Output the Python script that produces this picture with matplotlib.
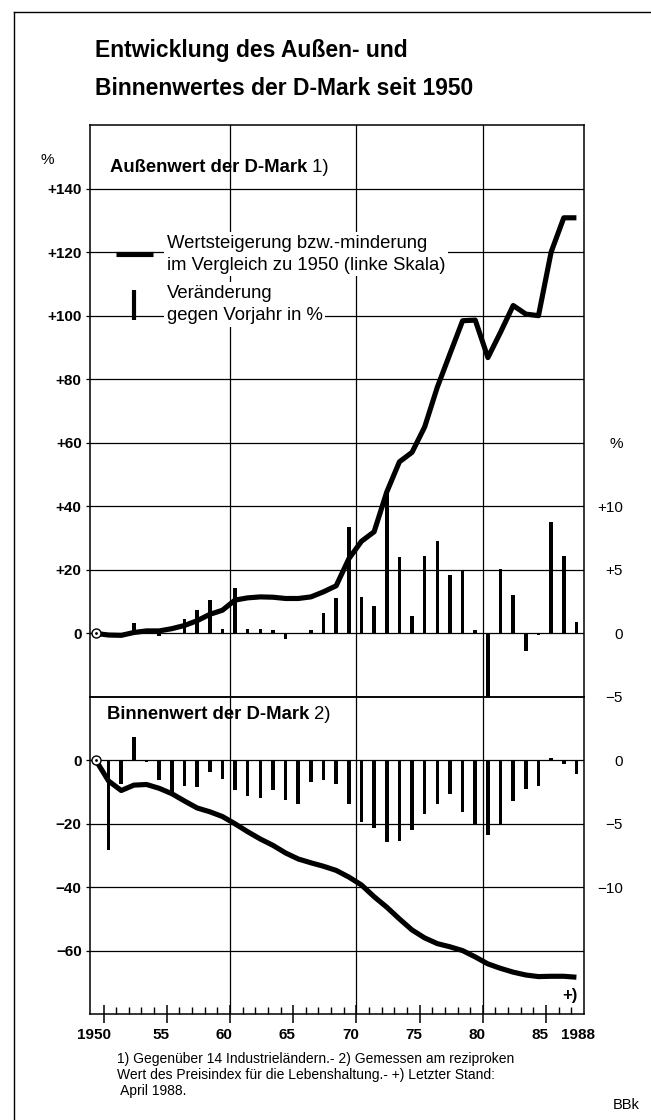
import matplotlib
matplotlib.use('Agg')
import matplotlib.pyplot as plt
from matplotlib.lines import Line2D
from matplotlib.transforms import ScaledTranslation
import numpy as np

plt.rcParams['font.family'] = ['Liberation Sans', 'DejaVu Sans']
plt.rcParams['axes.unicode_minus'] = True

# ---------------- data ----------------
years = list(range(1950, 1989))
change_years = list(range(1951, 1989))

# Außenwert: level vs 1950 in % (left scale)
ext_level = [0, -0.5, -0.6, 0.3, 0.8, 0.8, 1.5, 2.5, 4.0, 6.0,
             7.3, 10.5, 11.2, 11.5, 11.4, 11.0, 11.0, 11.5, 13.1, 15.0,
             23.5, 29.0, 32.0, 44.5, 54.0, 57.0, 65.0, 77.5, 88.0, 98.4,
             98.6, 86.8, 94.8, 103.2, 100.5, 100.0, 120.0, 130.8, 130.8]
# Außenwert: change vs previous year in % (right scale)
ext_change = [0, 0, 0.85, 0, -0.2, 0, 1.1, 1.85, 2.6, 0.35,
              3.55, 0.35, 0.35, 0.3, -0.45, 0, 0.3, 1.6, 2.75, 8.4,
              2.9, 2.15, 11.1, 6.05, 1.35, 6.1, 7.25, 4.6, 5.0, 0.25,
              -5.3, 5.1, 3.05, -1.4, -0.1, 8.75, 6.1, 0.9]

# Binnenwert: level vs 1950 in % (left scale)
int_level = [0, -6.5, -9.5, -7.8, -7.6, -8.8, -10.5, -12.8, -15.0, -16.2,
             -17.7, -20.0, -22.5, -24.8, -26.8, -29.2, -31.1, -32.3, -33.4, -34.7,
             -36.8, -39.3, -43.0, -46.3, -50.0, -53.5, -56.0, -57.8, -58.8, -60.0,
             -62.0, -64.2, -65.6, -66.8, -67.7, -68.2, -68.1, -68.1, -68.4]
# Binnenwert: change vs previous year in % (right scale)
int_change = [-7.05, -1.9, 1.85, -0.15, -1.55, -2.5, -2.0, -2.1, -0.95, -1.5,
              -2.3, -2.8, -3.0, -2.35, -3.15, -3.4, -1.7, -1.55, -1.85, -3.4,
              -4.85, -5.3, -6.4, -6.35, -5.5, -4.2, -3.45, -2.65, -4.05, -5.05,
              -5.85, -5.0, -3.2, -2.25, -2.05, 0.15, -0.3, -1.05]

upper_left_ticks = [0, 20, 40, 60, 80, 100, 120, 140]
upper_left_labels = ['0', '+20', '+40', '+60', '+80', '+100', '+120', '+140']
upper_right_ticks = [-5, 0, 5, 10, 15]
upper_right_labels = ['\u22125', '0', '+5', '+10', '%']
lower_left_ticks = [-60, -40, -20, 0]
lower_left_labels = ['\u221260', '\u221240', '\u221220', '0']
lower_right_ticks = [-10, -5, 0]
lower_right_labels = ['\u221210', '\u22125', '0']
x_major = [1950, 1955, 1960, 1965, 1970, 1975, 1980, 1985, 1988]
x_labels = ['1950', '55', '60', '65', '70', '75', '80', '85', '1988']
grid_years = [1960, 1970, 1980]

# ---------------- layout ----------------
W, H = 651, 1120
fig = plt.figure(figsize=(W / 100, H / 100), dpi=100)
fig.patch.set_facecolor('white')

def fx(px):
    return px / W

def fy(py):
    return 1 - py / H

L, R = 90, 584
TOP, MID, BOT = 125, 697, 1014
ax1 = fig.add_axes([fx(L), fy(MID), (R - L) / W, (MID - TOP) / H])
ax2 = fig.add_axes([fx(L), fy(BOT), (R - L) / W, (BOT - MID) / H])

SHIFT = -0.6          # horizontal placement of annual values
BAR_W = 0.28
XLIM = (1948.93, 1988.0)
SCALE = 4.0           # 1 % right scale = 4 % left scale
LW_GRID = 0.9
LW_LINE = 3.7
FS_TXT = 13.3

x_lvl = np.array(years) + SHIFT
x_chg = np.array(change_years) + SHIFT

def style_axes(ax, ylim, yt, ytl):
    ax.set_xlim(*XLIM)
    ax.set_ylim(*ylim)
    ax.set_yticks(yt)
    ax.set_yticklabels(ytl, fontsize=11, fontweight='bold')
    ax.tick_params(axis='y', direction='out', length=3, width=LW_GRID, pad=3)
    ax.grid(axis='y', color='black', lw=LW_GRID)
    ax.set_axisbelow(False)
    for s in ax.spines.values():
        s.set_linewidth(1.1)
    for gx in grid_years:
        ax.axvline(gx, color='black', lw=LW_GRID, zorder=1)

def twin(ax, ylim, yt, ytl):
    tw = ax.twinx()
    tw.set_ylim(ylim[0] / SCALE, ylim[1] / SCALE)
    tw.set_yticks(yt)
    tw.set_yticklabels(ytl, fontsize=11)
    tw.tick_params(axis='y', length=0, pad=28)
    for t in tw.get_yticklabels():
        t.set_horizontalalignment('right')
    for s in tw.spines.values():
        s.set_visible(False)
    ax.set_zorder(tw.get_zorder() + 1)
    ax.patch.set_visible(False)
    return tw

# ---- upper panel ----
style_axes(ax1, (-20, 160), upper_left_ticks, upper_left_labels)
ax1.tick_params(axis='x', length=0, labelbottom=False)
ax1b = twin(ax1, (-20, 160), upper_right_ticks, upper_right_labels)
ax1b.bar(x_chg, ext_change, width=BAR_W, color='black', zorder=2)
ax1.plot(x_lvl, ext_level, color='black', lw=LW_LINE, solid_joinstyle='round',
         solid_capstyle='butt', zorder=4)
ax1.plot(x_lvl[0], ext_level[0], 'o', ms=6.5, mfc='white', mec='black', mew=1, zorder=6)
ax1.plot(x_lvl[0], ext_level[0], '.', ms=2, color='black', zorder=7)

t1 = ax1.text(0.0405, 0.918, 'Au\u00dfenwert der D-Mark', transform=ax1.transAxes,
              fontsize=FS_TXT, fontweight='bold', va='baseline', ha='left', zorder=8)
ax1.annotate(' 1)', xy=(1, 0), xycoords=t1, va='bottom', ha='left', fontsize=FS_TXT)

h1 = Line2D([], [], color='black', lw=LW_LINE, solid_capstyle='butt')
h2 = Line2D([], [], color='black', marker='|', ms=22, mew=3, ls='none')
leg = ax1.legend([h1, h2],
                 ['Wertsteigerung bzw.-minderung\nim Vergleich zu 1950 (linke Skala)',
                  'Ver\u00e4nderung\ngegen Vorjahr in %'],
                 loc='upper left', bbox_to_anchor=(0.045, 0.815),
                 frameon=False, fontsize=FS_TXT, handlelength=2.0, handletextpad=0.75,
                 labelspacing=0.62, borderpad=0.2, borderaxespad=0)
for t in leg.get_texts():
    t.set_linespacing(1.4)
    t.set_bbox(dict(facecolor='white', edgecolor='none', pad=2))
leg.set_zorder(10)

# ---- lower panel ----
style_axes(ax2, (-80, 20), lower_left_ticks, lower_left_labels)
ax2b = twin(ax2, (-80, 20), lower_right_ticks, lower_right_labels)
ax2b.bar(x_chg, int_change, width=BAR_W, color='black', zorder=2)
ax2.plot(x_lvl, int_level, color='black', lw=LW_LINE, solid_joinstyle='round',
         solid_capstyle='butt', zorder=4)
ax2.plot(x_lvl[0], int_level[0], 'o', ms=6.5, mfc='white', mec='black', mew=1, zorder=6)
ax2.plot(x_lvl[0], int_level[0], '.', ms=2, color='black', zorder=7)

ax2.set_xticks(x_major)
ax2.set_xticklabels(x_labels, fontsize=11, fontweight='bold')
ax2.set_xticks([y for y in range(1951, 1988) if y not in x_major], minor=True)
ax2.tick_params(axis='x', which='major', direction='inout', length=13.5, width=1.1, pad=3)
ax2.tick_params(axis='x', which='minor', direction='in', length=4.8, width=1.0)
major_ticks = ax2.xaxis.get_major_ticks()
major_ticks[-1].tick1line.set_visible(False)
for i, tk in enumerate(major_ticks):
    dx = -10 if i == 0 else -6
    tk.label1.set_transform(tk.label1.get_transform()
                            + ScaledTranslation(dx / 100, 0, fig.dpi_scale_trans))

t2 = ax2.text(0.034, 0.93, 'Binnenwert der D-Mark', transform=ax2.transAxes,
              fontsize=FS_TXT, fontweight='bold', va='baseline', ha='left', zorder=8)
ax2.annotate(' 2)', xy=(1, 0), xycoords=t2, va='bottom', ha='left', fontsize=FS_TXT)
ax2.text(0.972, 0.057, '+)', transform=ax2.transAxes, ha='center', va='center',
         fontsize=12, fontweight='bold')

# ---- figure texts ----
fig.text(fx(95), fy(57), 'Entwicklung des Au\u00dfen- und',
         fontsize=16.5, fontweight='bold', ha='left', va='baseline')
fig.text(fx(95), fy(95), 'Binnenwertes der D-Mark seit 1950',
         fontsize=16.5, fontweight='bold', ha='left', va='baseline')
fig.text(fx(47), fy(160), '%', fontsize=11, ha='center', va='center')
fig.text(fx(117), fy(1052),
         '1) Gegen\u00fcber 14 Industriel\u00e4ndern.- 2) Gemessen am reziproken\n'
         'Wert des Preisindex f\u00fcr die Lebenshaltung.- +) Letzter Stand:\n'
         ' April 1988.', fontsize=10, ha='left', va='top', linespacing=1.2)
fig.text(fx(640), fy(1105), 'BBk', fontsize=10.5, ha='right', va='center')

fig.add_artist(Line2D([fx(14), fx(14)], [fy(12), 0], transform=fig.transFigure,
                      color='black', lw=1))
fig.add_artist(Line2D([fx(14), 1], [fy(12), fy(12)], transform=fig.transFigure,
                      color='black', lw=1))

fig.savefig('out.png', dpi=100)
